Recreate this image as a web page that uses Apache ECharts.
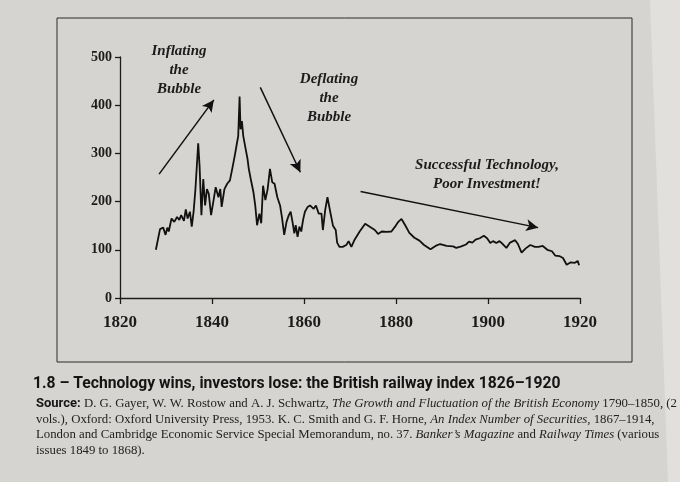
<!DOCTYPE html>
<html>
<head>
<meta charset="utf-8">
<script src="https://cdn.jsdelivr.net/npm/echarts@6/dist/echarts.min.js"></script>
<style>
  html, body { margin: 0; padding: 0; background: #d6d4d0; }
  #chart { width: 680px; height: 482px; }
</style>
</head>
<body>
<div id="chart"></div>
<script>
// British railway index
var years = [1827.8, 1828.3, 1828.7, 1829.4, 1829.9, 1830.3, 1830.6, 1831.2, 1831.8, 1832.4,
  1832.9, 1833.3, 1833.9, 1834.3, 1834.7, 1835.2, 1835.6, 1836.0, 1836.4, 1837.0,
  1837.3, 1837.7, 1838.1, 1838.5, 1838.9, 1839.3, 1839.8, 1840.4, 1840.8, 1841.4,
  1841.8, 1842.1, 1842.7, 1843.3, 1843.9, 1844.4, 1845.0, 1845.4, 1845.7, 1846.0,
  1846.2, 1846.5, 1846.8, 1847.3, 1847.7, 1848.0, 1848.4, 1849.0, 1849.4, 1849.8,
  1850.3, 1850.7, 1851.1, 1851.6, 1852.1, 1852.6, 1853.1, 1853.6, 1854.2, 1854.8,
  1855.2, 1855.7, 1856.2, 1856.7, 1857.1, 1857.5, 1857.9, 1858.2, 1858.6, 1859.0,
  1859.4, 1859.8, 1860.2, 1860.8, 1861.3, 1862.1, 1862.6, 1863.2, 1863.8, 1864.1,
  1864.6, 1865.1, 1865.7, 1866.3, 1866.9, 1867.2, 1867.7, 1868.4, 1869.2, 1869.7,
  1870.3, 1871.0, 1872.1, 1873.3, 1874.3, 1875.4, 1876.1, 1876.9, 1878.0, 1879.0,
  1879.8, 1880.5, 1881.2, 1882.0, 1882.9, 1884.0, 1885.1, 1886.1, 1887.5, 1888.6,
  1889.6, 1891.0, 1892.4, 1893.1, 1894.2, 1895.2, 1895.9, 1896.6, 1897.3, 1898.2,
  1899.1, 1899.8, 1900.5, 1901.1, 1901.8, 1902.5, 1903.2, 1904.0, 1904.8, 1905.9,
  1906.5, 1907.3, 1908.2, 1909.2, 1910.2, 1911.0, 1911.9, 1912.9, 1913.9, 1914.6,
  1915.5, 1916.3, 1917.1, 1918.0, 1918.9, 1919.5, 1919.8];
var railIndex = [100, 124, 143, 146, 131, 146, 138, 165, 158, 168,
  162, 172, 160, 184, 165, 179, 148, 179, 226, 321,
  274, 172, 247, 192, 226, 216, 172, 206, 230, 209,
  226, 189, 226, 237, 244, 268, 298, 320, 336, 418,
  350, 367, 336, 310, 290, 268, 248, 220, 192, 151,
  175, 155, 233, 203, 226, 268, 240, 237, 209, 192,
  168, 131, 158, 172, 179, 158, 134, 151, 127, 148,
  138, 162, 179, 189, 192, 185, 192, 175, 175, 141,
  182, 209, 179, 150, 141, 115, 106, 106, 110, 118,
  106, 121, 138, 154, 148, 141, 133, 138, 137, 138,
  148, 158, 164, 151, 135, 125, 119, 110, 101, 108,
  112, 108, 107, 104, 107, 111, 117, 115, 121, 124,
  129, 124, 114, 118, 114, 118, 112, 104, 115, 120,
  112, 94, 103, 110, 106, 106, 108, 100, 97, 88,
  87, 83, 69, 74, 73, 77, 68];

// annotation arrows: [fromYear, fromValue, toYear, toValue]
var arrows = [
  [1828.5, 257, 1840.4, 411],
  [1850.5, 437, 1859.2, 261],
  [1872.3, 221, 1910.9, 146]
];
var notes = [
  { lines: ['Inflating', 'the', 'Bubble'], x: 179, y: 42 },
  { lines: ['Deflating', 'the', 'Bubble'], x: 329, y: 70 },
  { lines: ['Successful Technology,', 'Poor Investment!'], x: 487, y: 156 }
];
var xTickYears = [1820, 1840, 1860, 1880, 1900, 1920];

var seriesData = [];
for (var i = 0; i < years.length; i++) {
  seriesData.push([years[i], railIndex[i]]);
}

var ink = '#1c1c1c';
var serif = '"Liberation Serif", "Times New Roman", serif';

var graphics = [
  { type: 'polygon', silent: true, shape: { points: [[650, 0], [680, 0], [680, 482], [668, 482]] },
    style: { fill: '#e2e0dc' } },
  { type: 'rect', silent: true, shape: { x: 57, y: 18, width: 575, height: 344 },
    style: { fill: 'none', stroke: '#2a2a2a', lineWidth: 1 } }
];
notes.forEach(function (n) {
  graphics.push({
    type: 'text', x: n.x, y: n.y, silent: true,
    style: {
      text: n.lines.join('\n'), fill: ink, align: 'center', verticalAlign: 'top',
      font: 'italic bold 15px ' + serif, lineHeight: 19
    }
  });
});
graphics.push({
  type: 'text', x: 33, y: 376, silent: true,
  style: {
    text: '1.8 \u2013 Technology wins, investors lose: the British railway index 1826\u20131920',
    fill: '#141414', font: 'bold 15.7px Roboto, "Liberation Sans", sans-serif'
  }
});
graphics.push({
  type: 'text', x: 36, y: 396, silent: true,
  style: {
    text: '{b|Source:} D. G. Gayer, W. W. Rostow and A. J. Schwartz, {i|The Growth and Fluctuation of the British Economy} 1790\u20131850, (2\n' +
      'vols.), Oxford: Oxford University Press, 1953. K. C. Smith and G. F. Horne, {i|An Index Number of Securities,} 1867\u20131914,\n' +
      'London and Cambridge Economic Service Special Memorandum, no. 37. {i|Banker\u2019s Magazine} and {i|Railway Times} (various\n' +
      'issues 1849 to 1868).',
    fill: '#222', font: '12.8px ' + serif, lineHeight: 15.5,
    rich: {
      b: { font: 'bold 13px Roboto, "Liberation Sans", sans-serif', fill: '#161616' },
      i: { font: 'italic 12.8px ' + serif, fill: '#222' }
    }
  }
});

var chart = echarts.init(document.getElementById('chart'));
var option = {
  backgroundColor: '#d6d4d0',
  animation: false,
  grid: { left: 120, right: 100, top: 57, bottom: 184 },
  xAxis: {
    type: 'value',
    min: xTickYears[0],
    max: xTickYears[xTickYears.length - 1],
    interval: 20,
    splitLine: { show: false },
    axisLine: { onZero: false, lineStyle: { color: ink, width: 1.3 } },
    axisTick: { length: 6, lineStyle: { color: ink, width: 1.3 } },
    axisLabel: {
      margin: 16, color: ink, fontFamily: serif, fontWeight: 'bold', fontSize: 17,
      formatter: function (v) { return String(v); }
    }
  },
  yAxis: {
    type: 'value',
    min: 0,
    max: 500,
    interval: 100,
    splitLine: { show: false },
    axisLine: { show: true, lineStyle: { color: ink, width: 1.3 } },
    axisTick: { show: true, length: 5, lineStyle: { color: ink, width: 1.3 } },
    axisLabel: { margin: 8, color: ink, fontFamily: serif, fontWeight: 'bold', fontSize: 14 }
  },
  series: [{
    type: 'line',
    data: seriesData,
    showSymbol: false,
    lineStyle: { color: '#111', width: 1.8 },
    markLine: {
      silent: true,
      symbol: ['none', 'arrow'],
      symbolSize: [9, 12],
      label: { show: false },
      lineStyle: { color: '#111', width: 1.5, type: 'solid' },
      data: arrows.map(function (a) {
        return [{ coord: [a[0], a[1]] }, { coord: [a[2], a[3]] }];
      })
    }
  }],
  graphic: graphics
};
chart.setOption(option);
</script>
</body>
</html>
